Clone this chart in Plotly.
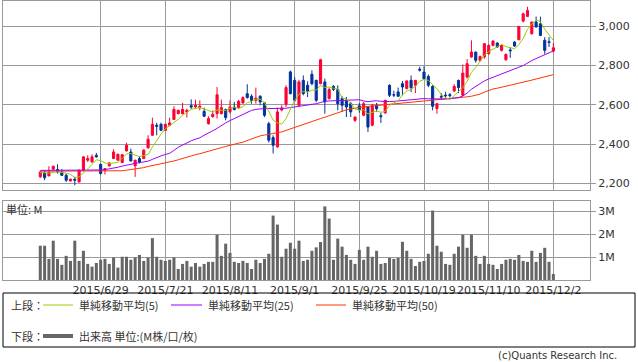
import pandas as pd
import plotly.graph_objects as go

W, H = 638, 362

# ---- data -------------------------------------------------------------
jp_holidays = ["2015-07-20", "2015-09-21", "2015-09-22", "2015-09-23",
               "2015-10-12", "2015-11-03", "2015-11-23"]
trade_days = pd.bdate_range("2015-06-09", "2015-12-02", freq="C", holidays=jp_holidays)
dates = [f"{d.year}/{d.month}/{d.day}" for d in trade_days]

tick_dates = ["2015/6/29", "2015/7/21", "2015/8/11", "2015/9/1",
              "2015/9/25", "2015/10/19", "2015/11/10", "2015/12/2"]

opens = [2233, 2253, 2238, 2272, 2270, 2258, 2241, 2212, 2221, 2207,
         2267, 2318, 2309, 2343, 2297, 2267, 2289, 2326, 2318, 2306,
         2365, 2360, 2289, 2326, 2326, 2381, 2445, 2496, 2501, 2470,
         2496, 2526, 2555, 2555, 2564, 2596, 2589, 2586, 2567, 2504,
         2540, 2555, 2555, 2576, 2565, 2589, 2586, 2610, 2657, 2644,
         2623, 2644, 2610, 2504, 2433, 2386, 2574, 2603, 2768, 2725,
         2598, 2725, 2700, 2756, 2725, 2708, 2717, 2632, 2695, 2678,
         2632, 2623, 2606, 2521, 2595, 2547, 2589, 2496, 2598, 2545,
         2559, 2700, 2652, 2666, 2708, 2683, 2725, 2700, 2782, 2767,
         2745, 2694, 2581, 2643, 2650, 2652, 2671, 2725, 2649, 2742,
         2844, 2869, 2827, 2844, 2861, 2903, 2915, 2878, 2830, 2880,
         2920, 2932, 3027, 3051, 2963, 3022, 3013, 2929, 2922, 2874]
highs = [2262, 2264, 2287, 2290, 2297, 2272, 2250, 2224, 2233, 2270,
         2338, 2343, 2348, 2355, 2300, 2278, 2309, 2374, 2352, 2350,
         2407, 2377, 2320, 2338, 2374, 2445, 2535, 2508, 2509, 2503,
         2535, 2593, 2576, 2610, 2581, 2628, 2626, 2623, 2586, 2542,
         2572, 2691, 2627, 2581, 2623, 2615, 2626, 2644, 2705, 2654,
         2688, 2649, 2615, 2513, 2445, 2586, 2598, 2700, 2775, 2742,
         2728, 2750, 2720, 2776, 2728, 2835, 2734, 2688, 2700, 2700,
         2644, 2640, 2615, 2540, 2610, 2615, 2593, 2605, 2610, 2560,
         2626, 2705, 2672, 2688, 2722, 2725, 2750, 2727, 2794, 2796,
         2755, 2700, 2610, 2660, 2667, 2660, 2705, 2728, 2806, 2833,
         2929, 2872, 2850, 2915, 2910, 2930, 2920, 2908, 2862, 2895,
         2925, 3000, 3070, 3100, 3025, 3050, 3050, 2945, 2945, 2915]
lows = [2228, 2216, 2236, 2268, 2250, 2238, 2207, 2210, 2190, 2205,
        2264, 2309, 2306, 2331, 2245, 2245, 2286, 2324, 2316, 2303,
        2363, 2312, 2233, 2301, 2324, 2377, 2443, 2445, 2467, 2468,
        2491, 2524, 2552, 2552, 2535, 2579, 2581, 2572, 2538, 2499,
        2535, 2530, 2552, 2521, 2555, 2572, 2581, 2606, 2632, 2606,
        2606, 2598, 2538, 2408, 2352, 2381, 2567, 2589, 2654, 2615,
        2592, 2649, 2640, 2700, 2615, 2705, 2555, 2627, 2671, 2572,
        2564, 2538, 2538, 2513, 2560, 2542, 2462, 2491, 2565, 2508,
        2555, 2640, 2640, 2640, 2649, 2680, 2665, 2660, 2770, 2728,
        2690, 2572, 2555, 2625, 2635, 2638, 2665, 2660, 2645, 2735,
        2840, 2815, 2820, 2835, 2855, 2898, 2890, 2872, 2825, 2840,
        2895, 2930, 3020, 3048, 2958, 2995, 2950, 2860, 2895, 2868]
closes = [2258, 2229, 2258, 2287, 2258, 2241, 2216, 2221, 2216, 2267,
          2335, 2326, 2335, 2335, 2250, 2275, 2304, 2360, 2348, 2346,
          2394, 2314, 2318, 2309, 2369, 2425, 2501, 2491, 2470, 2501,
          2508, 2577, 2572, 2577, 2572, 2589, 2598, 2593, 2542, 2530,
          2552, 2652, 2586, 2535, 2589, 2576, 2618, 2637, 2637, 2623,
          2635, 2615, 2547, 2420, 2394, 2564, 2584, 2688, 2657, 2623,
          2717, 2657, 2670, 2708, 2623, 2830, 2615, 2678, 2678, 2606,
          2598, 2589, 2564, 2538, 2575, 2606, 2487, 2598, 2580, 2540,
          2623, 2649, 2650, 2644, 2691, 2722, 2688, 2725, 2777, 2733,
          2700, 2593, 2606, 2640, 2647, 2647, 2694, 2688, 2762, 2810,
          2869, 2827, 2847, 2912, 2903, 2925, 2895, 2903, 2857, 2876,
          2900, 3000, 3064, 3081, 3022, 2997, 2954, 2878, 2918, 2891]

ma5 = [2255, 2253, 2252, 2256, 2258, 2255, 2252, 2245, 2230, 2232,
       2251, 2273, 2296, 2320, 2316, 2304, 2300, 2305, 2307, 2327,
       2350, 2352, 2344, 2336, 2341, 2347, 2384, 2419, 2451, 2478,
       2494, 2509, 2526, 2547, 2561, 2577, 2582, 2586, 2579, 2570,
       2563, 2574, 2572, 2571, 2583, 2588, 2581, 2591, 2611, 2618,
       2630, 2629, 2611, 2568, 2522, 2508, 2502, 2530, 2577, 2623,
       2654, 2668, 2665, 2675, 2675, 2698, 2689, 2691, 2685, 2681,
       2635, 2630, 2607, 2579, 2573, 2574, 2554, 2561, 2569, 2562,
       2566, 2598, 2608, 2621, 2651, 2671, 2679, 2694, 2721, 2729,
       2725, 2706, 2682, 2654, 2637, 2627, 2647, 2663, 2688, 2720,
       2765, 2791, 2823, 2853, 2872, 2883, 2896, 2908, 2897, 2891,
       2886, 2907, 2939, 2984, 3013, 3033, 3024, 2986, 2954, 2928]
ma25 = [2266, 2266, 2267, 2267, 2267, 2266, 2266, 2265, 2265, 2265,
        2266, 2266, 2267, 2268, 2268, 2270, 2273, 2277, 2282, 2288,
        2293, 2297, 2301, 2306, 2309, 2313, 2322, 2333, 2340, 2347,
        2353, 2368, 2384, 2395, 2407, 2417, 2425, 2432, 2445, 2455,
        2468, 2480, 2495, 2508, 2520, 2531, 2541, 2552, 2562, 2572,
        2577, 2580, 2581, 2581, 2581, 2581, 2581, 2583, 2586, 2589,
        2592, 2594, 2598, 2602, 2606, 2612, 2618, 2620, 2621, 2622,
        2623, 2623, 2625, 2627, 2626, 2620, 2616, 2619, 2621, 2618,
        2616, 2617, 2618, 2620, 2622, 2624, 2626, 2628, 2631, 2632,
        2631, 2630, 2629, 2628, 2630, 2632, 2634, 2637, 2645, 2660,
        2680, 2695, 2710, 2722, 2732, 2741, 2750, 2758, 2767, 2776,
        2784, 2792, 2800, 2814, 2826, 2836, 2846, 2856, 2866, 2875]
ma50 = [2262, 2262, 2262, 2262, 2262, 2262, 2262, 2262, 2262, 2262,
        2262, 2262, 2262, 2262, 2262, 2262, 2262, 2262, 2262, 2264,
        2267, 2270, 2273, 2276, 2280, 2286, 2290, 2295, 2299, 2303,
        2308, 2314, 2320, 2327, 2335, 2341, 2346, 2351, 2358, 2365,
        2370, 2376, 2382, 2388, 2395, 2400, 2405, 2410, 2418, 2425,
        2435, 2442, 2446, 2450, 2455, 2458, 2462, 2470, 2478, 2484,
        2492, 2500, 2510, 2517, 2524, 2530, 2537, 2544, 2550, 2560,
        2567, 2575, 2580, 2584, 2587, 2590, 2592, 2595, 2597, 2599,
        2600, 2602, 2604, 2606, 2608, 2610, 2612, 2614, 2616, 2619,
        2620, 2622, 2624, 2626, 2628, 2631, 2633, 2635, 2638, 2641,
        2644, 2648, 2655, 2665, 2675, 2681, 2685, 2690, 2694, 2698,
        2703, 2708, 2714, 2720, 2726, 2732, 2738, 2743, 2748, 2754]

volume_m = [1.49, 1.49, 0.92, 1.71, 0.92, 0.66, 1.05, 0.83, 1.71, 0.83,
            1.27, 0.70, 0.58, 0.74, 0.88, 0.92, 0.70, 0.98, 0.54, 1.01,
            1.01, 0.88, 0.98, 1.09, 0.83, 0.98, 1.82, 1.01, 0.88, 0.83,
            0.88, 0.98, 0.48, 0.70, 0.83, 0.58, 0.74, 0.58, 0.70, 0.79,
            0.79, 1.97, 1.05, 1.58, 1.18, 0.79, 0.74, 0.83, 0.74, 0.48,
            0.88, 0.74, 0.92, 1.14, 2.80, 2.41, 1.01, 1.36, 1.62, 1.36,
            1.71, 0.83, 0.88, 1.27, 1.42, 1.65, 3.20, 2.67, 0.88, 1.80,
            1.45, 1.09, 0.88, 0.70, 1.31, 0.88, 1.45, 1.01, 1.27, 0.70,
            0.74, 0.96, 0.92, 0.96, 1.66, 1.27, 0.92, 0.61, 0.79, 0.83,
            1.14, 3.02, 1.49, 1.23, 0.70, 0.66, 1.14, 1.45, 1.97, 1.40,
            1.97, 1.05, 0.70, 1.05, 0.70, 0.66, 0.48, 0.70, 0.88, 0.92,
            0.88, 1.09, 0.83, 0.79, 1.27, 0.79, 1.18, 1.40, 0.79, 0.26]

price_ticks = [2200, 2400, 2600, 2800, 3000]
vol_ticks = [1, 2, 3]
vol_tick_text = ["1M", "2M", "3M"]

# ---- styling ------------------------------------------------------------
RED = "#FF0033"
BLUE = "#003399"
C_MA5 = "#99CC00"
C_MA25 = "#9900FF"
C_MA50 = "#FF3300"
C_VOL = "#666666"
GRID = "#999999"
TXT = "#333333"
FONT = "DejaVu Sans"
JFONT = "Noto Sans CJK JP"


def px_x(p):
    return p / W


def px_y(p):
    return 1 - p / H


fig = go.Figure()

fig.add_trace(go.Candlestick(
    x=dates, open=opens, high=highs, low=lows, close=closes,
    increasing=dict(line=dict(color=RED, width=1), fillcolor=RED),
    decreasing=dict(line=dict(color=BLUE, width=1), fillcolor=BLUE),
    whiskerwidth=0, xaxis="x", yaxis="y", showlegend=False, hoverinfo="skip"))

for vals, col in ((ma50, C_MA50), (ma25, C_MA25), (ma5, C_MA5)):
    fig.add_trace(go.Scatter(x=dates, y=vals, mode="lines",
                             line=dict(color=col, width=1),
                             xaxis="x", yaxis="y", showlegend=False, hoverinfo="skip"))

fig.add_trace(go.Bar(x=dates, y=volume_m, marker=dict(color=C_VOL, line=dict(width=0)),
                     xaxis="x2", yaxis="y2", showlegend=False, hoverinfo="skip"))

x_range = [-8.65, 127.5]
xdom = [px_x(3), px_x(590)]

common_x = dict(type="category", range=x_range, domain=xdom,
                tickmode="array", tickvals=tick_dates,
                showgrid=True, gridcolor=GRID, gridwidth=1,
                showline=True, linecolor=GRID, linewidth=1, mirror=True,
                zeroline=False, ticks="", fixedrange=True, automargin=False)

fig.update_layout(
    width=W, height=H, autosize=False,
    margin=dict(l=0, r=0, t=0, b=0, pad=0),
    paper_bgcolor="white", plot_bgcolor="white",
    bargap=0.3, hovermode=False,
    xaxis=dict(**common_x, anchor="y", showticklabels=False,
               rangeslider=dict(visible=False)),
    yaxis=dict(domain=[px_y(190), px_y(0.5)], range=[2166, 3132], side="right",
               tickmode="array", tickvals=price_ticks, tickformat=",d",
               ticks="outside", ticklen=5, tickcolor=GRID,
               tickfont=dict(family=FONT, size=11, color=TXT),
               showgrid=True, gridcolor=GRID, gridwidth=1,
               showline=True, linecolor=GRID, linewidth=1, mirror=True,
               zeroline=False, anchor="x", automargin=False, fixedrange=True),
    xaxis2=dict(**common_x, anchor="y2", showticklabels=True, tickangle=0,
                tickfont=dict(family=FONT, size=11, color=TXT)),
    yaxis2=dict(domain=[px_y(280), px_y(201)], range=[0, 3.435], side="right",
                tickmode="array", tickvals=vol_ticks, ticktext=vol_tick_text,
                ticks="outside", ticklen=5, tickcolor=GRID,
                tickfont=dict(family=FONT, size=11, color=TXT),
                showgrid=True, gridcolor=GRID, gridwidth=1,
                showline=True, linecolor=GRID, linewidth=1, mirror=True,
                zeroline=False, anchor="x2", automargin=False, fixedrange=True),
)

shapes = []
annotations = []

# volume unit label
annotations.append(dict(x=px_x(4), y=px_y(209), xref="paper", yref="paper",
                        text="単位: M", showarrow=False, xanchor="left", yanchor="middle",
                        font=dict(family=JFONT, size=11, color=TXT)))

# legend box
shapes.append(dict(type="rect", xref="paper", yref="paper",
                   x0=px_x(3), x1=px_x(635), y0=px_y(347), y1=px_y(293),
                   line=dict(color="black", width=1), fillcolor="rgba(0,0,0,0)"))

row1, row2 = 305, 336
legend_items = [
    (row1, 43, 73, C_MA5, 1, "単純移動平均(5)"),
    (row1, 171, 202, C_MA25, 1, "単純移動平均(25)"),
    (row1, 316, 346, C_MA50, 1, "単純移動平均(50)"),
    (row2, 43, 73, C_VOL, 4, "出来高 単位:(M株/口/枚)"),
]
for ry, lx0, lx1, col, lw, label in legend_items:
    shapes.append(dict(type="line", xref="paper", yref="paper",
                       x0=px_x(lx0), x1=px_x(lx1), y0=px_y(ry), y1=px_y(ry),
                       line=dict(color=col, width=lw)))
    annotations.append(dict(x=px_x(lx1 + 4), y=px_y(ry), xref="paper", yref="paper",
                            text=label, showarrow=False, xanchor="left", yanchor="middle",
                            font=dict(family=JFONT, size=11, color=TXT)))

for ry, label in ((row1, "上段："), (row2, "下段：")):
    annotations.append(dict(x=px_x(9), y=px_y(ry), xref="paper", yref="paper",
                            text=label, showarrow=False, xanchor="left", yanchor="middle",
                            font=dict(family=JFONT, size=11, color=TXT)))

annotations.append(dict(x=px_x(619), y=px_y(355), xref="paper", yref="paper",
                        text="(c)Quants Research Inc.", showarrow=False,
                        xanchor="right", yanchor="middle",
                        font=dict(family=FONT, size=10, color=TXT)))

fig.update_layout(shapes=shapes, annotations=annotations)

fig.write_html("out.html", config={"displayModeBar": False, "staticPlot": True},
               post_script="document.body.style.margin='0';document.body.style.padding='0';")
